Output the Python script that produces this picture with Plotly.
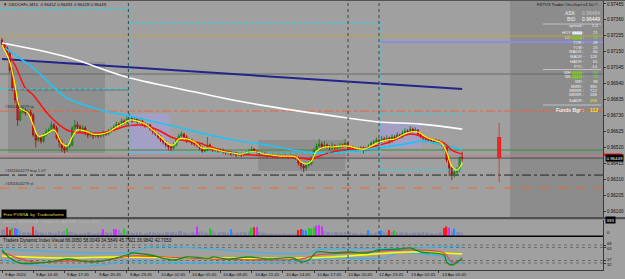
import plotly.graph_objects as go

# ---------------- data (USDCHFc, M15) ----------------
# bar number 0 = 9 Apr 2020 11:45 ; bar 133 = 12 Apr 21:00 ; bar 177 = 13 Apr 08:00
bars = list(range(178))

opens = [
    0.97227, 0.97201, 0.97175, 0.97148, 0.97029, 0.96911, 0.96832, 0.96700, 0.96753, 0.96766,
    0.96746, 0.96753, 0.96733, 0.96601, 0.96568, 0.96581, 0.96561, 0.96601, 0.96621, 0.96634,
    0.96667, 0.96647, 0.96581, 0.96555, 0.96515, 0.96502, 0.96528, 0.96535, 0.96647, 0.96667,
    0.96654, 0.96634, 0.96647, 0.96614, 0.96601, 0.96607, 0.96594, 0.96607, 0.96594, 0.96601,
    0.96614, 0.96607, 0.96627, 0.96634, 0.96654, 0.96673, 0.96667, 0.96693, 0.96680, 0.96706,
    0.96713, 0.96693, 0.96706, 0.96687, 0.96693, 0.96673, 0.96660, 0.96667, 0.96640, 0.96621,
    0.96607, 0.96588, 0.96568, 0.96555, 0.96535, 0.96522, 0.96515, 0.96535, 0.96568, 0.96594,
    0.96607, 0.96588, 0.96561, 0.96568, 0.96548, 0.96541, 0.96535, 0.96515, 0.96495, 0.96502,
    0.96535, 0.96515, 0.96502, 0.96508, 0.96495, 0.96502, 0.96489, 0.96482, 0.96489, 0.96475,
    0.96482, 0.96469, 0.96475, 0.96469, 0.96475, 0.96482, 0.96495, 0.96508, 0.96495, 0.96482,
    0.96475, 0.96482, 0.96469, 0.96462, 0.96469, 0.96462, 0.96462, 0.96456, 0.96462, 0.96456,
    0.96462, 0.96456, 0.96462, 0.96456, 0.96449, 0.96416, 0.96396, 0.96383, 0.96403, 0.96410,
    0.96449, 0.96502, 0.96528, 0.96541, 0.96522, 0.96535, 0.96522, 0.96515, 0.96528, 0.96515,
    0.96522, 0.96535, 0.96528, 0.96548, 0.96522, 0.96515, 0.96515, 0.96502, 0.96508, 0.96515,
    0.96502, 0.96508, 0.96528, 0.96548, 0.96555, 0.96568, 0.96561, 0.96575, 0.96568, 0.96581,
    0.96561, 0.96588, 0.96581, 0.96601, 0.96588, 0.96614, 0.96627, 0.96621, 0.96640, 0.96627,
    0.96634, 0.96607, 0.96594, 0.96581, 0.96575, 0.96568, 0.96561, 0.96555, 0.96561, 0.96548,
    0.96541, 0.96522, 0.96436, 0.96383, 0.96344, 0.96357, 0.96370, 0.96452]

highs = [
    0.97240, 0.97212, 0.97185, 0.97160, 0.97045, 0.96925, 0.96845, 0.96770, 0.96790, 0.96780,
    0.96775, 0.96770, 0.96745, 0.96615, 0.96600, 0.96595, 0.96615, 0.96640, 0.96650, 0.96690,
    0.96680, 0.96660, 0.96595, 0.96570, 0.96530, 0.96545, 0.96560, 0.96660, 0.96700, 0.96690,
    0.96670, 0.96665, 0.96660, 0.96630, 0.96625, 0.96620, 0.96620, 0.96615, 0.96615, 0.96630,
    0.96625, 0.96640, 0.96650, 0.96670, 0.96690, 0.96685, 0.96710, 0.96705, 0.96725, 0.96746,
    0.96725, 0.96720, 0.96715, 0.96705, 0.96700, 0.96685, 0.96680, 0.96675, 0.96650, 0.96630,
    0.96615, 0.96600, 0.96575, 0.96565, 0.96545, 0.96535, 0.96550, 0.96580, 0.96610, 0.96625,
    0.96615, 0.96600, 0.96580, 0.96575, 0.96560, 0.96555, 0.96545, 0.96525, 0.96515, 0.96588,
    0.96545, 0.96525, 0.96520, 0.96515, 0.96515, 0.96510, 0.96500, 0.96500, 0.96495, 0.96495,
    0.96490, 0.96488, 0.96485, 0.96485, 0.96495, 0.96510, 0.96525, 0.96515, 0.96500, 0.96490,
    0.96495, 0.96490, 0.96478, 0.96480, 0.96475, 0.96472, 0.96470, 0.96472, 0.96470, 0.96475,
    0.96470, 0.96472, 0.96470, 0.96465, 0.96458, 0.96425, 0.96410, 0.96415, 0.96425, 0.96460,
    0.96515, 0.96545, 0.96575, 0.96555, 0.96560, 0.96545, 0.96535, 0.96550, 0.96540, 0.96535,
    0.96550, 0.96545, 0.96575, 0.96555, 0.96530, 0.96530, 0.96520, 0.96520, 0.96530, 0.96525,
    0.96520, 0.96540, 0.96560, 0.96570, 0.96585, 0.96580, 0.96595, 0.96590, 0.96600, 0.96590,
    0.96605, 0.96600, 0.96620, 0.96610, 0.96630, 0.96645, 0.96640, 0.96660, 0.96650, 0.96650,
    0.96640, 0.96615, 0.96600, 0.96590, 0.96585, 0.96580, 0.96570, 0.96575, 0.96570, 0.96560,
    0.96550, 0.96530, 0.96445, 0.96395, 0.96375, 0.96390, 0.96460, 0.96491]

lows = [
    0.97190, 0.97160, 0.97130, 0.97010, 0.96890, 0.96810, 0.96660, 0.96690, 0.96740, 0.96730,
    0.96735, 0.96720, 0.96590, 0.96520, 0.96555, 0.96545, 0.96550, 0.96590, 0.96610, 0.96625,
    0.96635, 0.96570, 0.96520, 0.96490, 0.96480, 0.96490, 0.96515, 0.96525, 0.96635, 0.96640,
    0.96620, 0.96620, 0.96600, 0.96580, 0.96590, 0.96575, 0.96585, 0.96580, 0.96585, 0.96590,
    0.96595, 0.96600, 0.96615, 0.96625, 0.96645, 0.96655, 0.96660, 0.96670, 0.96670, 0.96695,
    0.96680, 0.96685, 0.96675, 0.96675, 0.96660, 0.96650, 0.96650, 0.96630, 0.96605, 0.96595,
    0.96575, 0.96555, 0.96540, 0.96520, 0.96500, 0.96495, 0.96505, 0.96525, 0.96560, 0.96585,
    0.96575, 0.96550, 0.96550, 0.96535, 0.96530, 0.96520, 0.96500, 0.96480, 0.96485, 0.96495,
    0.96500, 0.96490, 0.96490, 0.96485, 0.96485, 0.96475, 0.96470, 0.96470, 0.96462, 0.96465,
    0.96455, 0.96460, 0.96455, 0.96460, 0.96465, 0.96475, 0.96488, 0.96485, 0.96470, 0.96465,
    0.96468, 0.96460, 0.96452, 0.96455, 0.96452, 0.96450, 0.96445, 0.96448, 0.96445, 0.96448,
    0.96445, 0.96448, 0.96442, 0.96435, 0.96400, 0.96375, 0.96357, 0.96365, 0.96390, 0.96400,
    0.96440, 0.96495, 0.96520, 0.96510, 0.96515, 0.96510, 0.96500, 0.96505, 0.96505, 0.96505,
    0.96510, 0.96515, 0.96520, 0.96510, 0.96500, 0.96500, 0.96490, 0.96492, 0.96498, 0.96480,
    0.96495, 0.96500, 0.96520, 0.96540, 0.96545, 0.96550, 0.96550, 0.96555, 0.96560, 0.96545,
    0.96550, 0.96565, 0.96570, 0.96575, 0.96580, 0.96605, 0.96610, 0.96610, 0.96615, 0.96620,
    0.96595, 0.96580, 0.96570, 0.96562, 0.96555, 0.96550, 0.96545, 0.96545, 0.96535, 0.96530,
    0.96505, 0.96420, 0.96330, 0.96304, 0.96320, 0.96330, 0.96355, 0.96428]

closes = [
    0.97201, 0.97175, 0.97148, 0.97029, 0.96911, 0.96832, 0.96700, 0.96753, 0.96766, 0.96746,
    0.96753, 0.96733, 0.96601, 0.96568, 0.96581, 0.96561, 0.96601, 0.96621, 0.96634, 0.96667,
    0.96647, 0.96581, 0.96555, 0.96515, 0.96502, 0.96528, 0.96535, 0.96647, 0.96667, 0.96654,
    0.96634, 0.96647, 0.96614, 0.96601, 0.96607, 0.96594, 0.96607, 0.96594, 0.96601, 0.96614,
    0.96607, 0.96627, 0.96634, 0.96654, 0.96673, 0.96667, 0.96693, 0.96680, 0.96706, 0.96713,
    0.96693, 0.96706, 0.96687, 0.96693, 0.96673, 0.96660, 0.96667, 0.96640, 0.96621, 0.96607,
    0.96588, 0.96568, 0.96555, 0.96535, 0.96522, 0.96515, 0.96535, 0.96568, 0.96594, 0.96607,
    0.96588, 0.96561, 0.96568, 0.96548, 0.96541, 0.96535, 0.96515, 0.96495, 0.96502, 0.96535,
    0.96515, 0.96502, 0.96508, 0.96495, 0.96502, 0.96489, 0.96482, 0.96489, 0.96475, 0.96482,
    0.96469, 0.96475, 0.96469, 0.96475, 0.96482, 0.96495, 0.96508, 0.96495, 0.96482, 0.96475,
    0.96482, 0.96469, 0.96462, 0.96469, 0.96462, 0.96462, 0.96456, 0.96462, 0.96456, 0.96462,
    0.96456, 0.96462, 0.96456, 0.96449, 0.96416, 0.96396, 0.96383, 0.96403, 0.96410, 0.96449,
    0.96502, 0.96528, 0.96541, 0.96522, 0.96535, 0.96522, 0.96515, 0.96528, 0.96515, 0.96522,
    0.96535, 0.96528, 0.96548, 0.96522, 0.96515, 0.96515, 0.96502, 0.96508, 0.96515, 0.96502,
    0.96508, 0.96528, 0.96548, 0.96555, 0.96568, 0.96561, 0.96575, 0.96568, 0.96581, 0.96561,
    0.96588, 0.96581, 0.96601, 0.96588, 0.96614, 0.96627, 0.96621, 0.96640, 0.96627, 0.96634,
    0.96607, 0.96594, 0.96581, 0.96575, 0.96568, 0.96561, 0.96555, 0.96561, 0.96548, 0.96541,
    0.96522, 0.96436, 0.96383, 0.96344, 0.96357, 0.96370, 0.96452, 0.96449]

time_tick_bars = [0, 12, 24, 36, 48, 60, 72, 84, 96, 108, 120, 132, 144, 156, 168]
time_tick_labels = ["9 Apr 2020", "9 Apr 14:45", "9 Apr 17:45", "9 Apr 20:45", "9 Apr 23:45",
                    "10 Apr 02:45", "10 Apr 05:45", "10 Apr 08:45", "10 Apr 11:45", "10 Apr 14:45",
                    "10 Apr 17:45", "10 Apr 20:45", "12 Apr 23:45", "13 Apr 02:45", "13 Apr 05:45"]

price_ticks = [0.97465, 0.97360, 0.97255, 0.97150, 0.97045, 0.96940, 0.96835,
               0.96730, 0.96625, 0.96520, 0.96415, 0.96310, 0.96205, 0.96100]

fast_ma_bars = [0, 3, 5, 7, 10, 12, 14, 17, 20, 23, 25, 27, 29, 32, 35, 38, 41, 44, 47, 49, 52, 55, 58,
                61, 64, 66, 68, 71, 74, 77, 80, 83, 86, 89, 92, 95, 98, 101, 104, 107, 110, 113, 115,
                117, 119, 121, 124, 127, 130, 133, 136, 139, 142, 145, 148, 151, 154, 157, 160, 163,
                166, 169, 171, 173, 175, 177]
fast_ma = [0.97194, 0.97082, 0.96930, 0.96779, 0.96746, 0.96667, 0.96594, 0.96607, 0.96634, 0.96548,
           0.96528, 0.96588, 0.96634, 0.96627, 0.96607, 0.96607, 0.96621, 0.96654, 0.96680, 0.96700,
           0.96693, 0.96673, 0.96634, 0.96588, 0.96541, 0.96535, 0.96575, 0.96575, 0.96555, 0.96515,
           0.96515, 0.96502, 0.96489, 0.96482, 0.96475, 0.96489, 0.96489, 0.96475, 0.96469, 0.96462,
           0.96462, 0.96456, 0.96423, 0.96410, 0.96429, 0.96495, 0.96522, 0.96522, 0.96528, 0.96528,
           0.96515, 0.96508, 0.96528, 0.96555, 0.96568, 0.96575, 0.96601, 0.96621, 0.96621, 0.96588,
           0.96568, 0.96548, 0.96489, 0.96396, 0.96370, 0.96416]

slow_ma_bars = [0, 5, 9, 12, 18, 25, 31, 38, 43, 48, 53, 60, 65, 69, 76, 80, 89, 102, 115, 119, 124,
                131, 140, 148, 157, 163, 170, 173, 177]
slow_ma = [0.97194, 0.97062, 0.96911, 0.96865, 0.96733, 0.96634, 0.96614, 0.96614, 0.96634, 0.96660,
           0.96667, 0.96634, 0.96588, 0.96568, 0.96548, 0.96522, 0.96482, 0.96462, 0.96449, 0.96442,
           0.96475, 0.96502, 0.96515, 0.96548, 0.96607, 0.96581, 0.96548, 0.96502, 0.96475]

mid_ma_bars = [1, 12, 22, 25, 38, 49, 64, 80, 89, 102, 120, 131, 144, 157, 161, 170, 177]
mid_ma = [0.97175, 0.97043, 0.96884, 0.96845, 0.96766, 0.96726, 0.96667, 0.96601, 0.96568, 0.96535,
          0.96482, 0.96489, 0.96515, 0.96548, 0.96561, 0.96535, 0.96502]

long_ma_bars = [0, 25, 48, 76, 95, 133, 145, 161, 177]
long_ma = [0.97207, 0.97115, 0.96983, 0.96878, 0.96812, 0.96713, 0.96687, 0.96673, 0.96640]

trend_bars = [0, 177]
trend = [0.97102, 0.96904]

# previous-day high / low per trading day
day_start_bars = [-0.77, 49.2, 145.4]
day_end_bars = [49.2, 145.4, 177]
prev_day_high = [0.97432, 0.97339, 0.96739]
prev_day_low = [0.96904, 0.96482, 0.96370]

# horizontal levels: price, first bar, last bar
level_prices = [0.97254, 0.97214, 0.97003, 0.96898, 0.96759, 0.96502, 0.96464, 0.96449, 0.96337, 0.96251]
level_from = [-0.77, 145.4, -0.77, 2.3, -0.77, -0.77, -0.77, -0.77, -0.77, -0.77]
level_to = [231.2, 231.2, 231.2, 48.5, 231.2, 231.2, 231.2, 231.2, 231.2, 231.2]
order_labels = ["#1811604279 tp", "#1811604279 buy 1.07", "#1811604279 sl"]
order_prices = [0.96759, 0.96337, 0.96251]

# zones: first bar, last bar, top, bottom
session_zones = [(2.3, 39.6, 0.97082, 0.96482), (98.5, 132.0, 0.96568, 0.96363)]
lavender_zones = [(49.2, 64.6, 0.96739, 0.96482), (145.4, 161.2, 0.96687, 0.96515)]
separator_bars = [48.6, 133.1, 145.0]

# higher-timeframe candle projection
htf_bar = [191.2]
htf_open, htf_high, htf_low, htf_close = [0.96588], [0.96680], [0.96291], [0.96449]

# PVSRA volume
volume = [
    150, 170, 230, 160, 210, 200, 180, 120, 100, 90,
    110, 80, 240, 150, 100, 90, 80, 70, 110, 90,
    70, 80, 120, 100, 130, 190, 110, 100, 80, 60,
    70, 60, 80, 100, 90, 60, 70, 80, 90, 170,
    100, 80, 90, 180, 170, 160, 90, 190, 120, 110,
    80, 70, 90, 100, 60, 70, 80, 110, 90, 80,
    90, 70, 80, 100, 110, 90, 100, 80, 120, 130,
    90, 80, 70, 100, 90, 240, 100, 120, 90, 80,
    190, 150, 90, 80, 100, 110, 90, 80, 170, 90,
    70, 90, 100, 110, 80, 120, 210, 220, 230, 110,
    90, 80, 70, 60, 70, 60, 50, 60, 70, 60,
    50, 60, 70, 60, 150, 180, 160, 140, 200, 190,
    220, 260, 280, 250, 120, 110, 100, 90, 110, 100,
    90, 80, 100, 110, 90, 70, 80, 60, 70, 60,
    70, 150, 80, 70, 90, 100, 140, 110, 90, 150,
    100, 130, 90, 80, 100, 90, 80, 70, 90, 80,
    90, 80, 100, 90, 80, 70, 60, 70, 80, 90,
    200, 240, 210, 120, 190, 100, 110, 90]
volume_class = ("nnrrgmbnnn" "nnrnnnnnnn" "nnnnngnnnn" "nnnnnnnnnm" "nnnmmnngnn"
                "nnnnnnnnnn" "nnnnnnnnnn" "nnnnnmnnnn" "gnnnnnnnbn" "nnnnnngrmn"
                "nnnnnnnnnn" "nnnnrrbbgg" "gmmmnnnnnn" "nnnnnnnnnn" "nbnnnnbnnr"
                "ngnnnnnnnn" "nnnnnnnnnn" "rrmnbnnn")

# Traders Dynamic Index
tdi_up_bars = [0, 50, 57, 80, 102, 118, 121, 127, 157, 177]
tdi_up = [60, 54, 64, 60, 52, 52, 58, 60, 62, 66]
tdi_lo_bars = [0, 12, 25, 38, 47, 57, 80, 115, 127, 147, 153, 157, 170, 173, 177]
tdi_lo = [38, 28, 24, 28, 34, 34, 32, 36, 42, 42, 54, 52, 44, 32, 34]
tdi_mid_bars = [0, 25, 42, 80, 115, 127, 157, 170, 177]
tdi_mid = [46, 42, 44, 42, 42, 44, 54, 52, 50]
tdi_rsi_bars = [0, 3, 7, 18, 25, 35, 48, 50, 57, 66, 71, 80, 81, 87, 95, 102, 112, 115, 118, 121,
                127, 134, 140, 145, 153, 157, 161, 170, 171, 173, 177]
tdi_rsi = [58, 42, 32, 34, 40, 34, 48, 52, 48, 38, 44, 42, 44, 40, 44, 40, 42, 34, 38, 54,
           52, 54, 52, 58, 60, 62, 54, 48, 34, 28, 42]
tdi_sig_bars = [0, 12, 25, 38, 50, 63, 80, 115, 121, 134, 157, 170, 173, 177]
tdi_sig = [54, 34, 36, 36, 46, 44, 40, 40, 48, 52, 58, 52, 34, 38]
tdi_levels = [68, 63, 37, 32]

# on-chart info panel
info_labels = ["ASK", "BID", "spread :", "HOY", "LO", "TOR :", "YOB :", "WADR :", "MADR :", "HADR :",
               "PTC :", "WH", "WL", "WR :", "MWR :", "3MWR :", "6MWR :", "3xADR :", "Funds Bgr :"]
info_values = ["0.96484", "0.96449", "1.5", "21", "18", "28", "23", "60", "128", "61",
               "-14", "29", "18", "38", "390", "712", "168", "208", "112"]
info_kind = ["ask", "bid", "n", "bar", "gbar", "n", "n", "n", "n", "n",
             "n", "gbar", "gbar", "n", "n", "n", "n", "y", "y"]

# ---------------- layout helpers ----------------
W, H = 625, 279
FONT = "Liberation Sans"
BG = "#a0a0a0"
X_RANGE = [-0.77, 231.15]


def py(p):
    return 1 - p / H


def pxp(p):
    return p / W


fig = go.Figure()

# candles
fig.add_trace(go.Candlestick(
    x=bars, open=opens, high=highs, low=lows, close=closes,
    increasing=dict(line=dict(color="#137a13", width=0.8), fillcolor="#1fae1f"),
    decreasing=dict(line=dict(color="#b00000", width=0.8), fillcolor="#ff1a1a"),
    whiskerwidth=0, showlegend=False, xaxis="x", yaxis="y"))

# moving averages & trend
fig.add_trace(go.Scatter(x=trend_bars, y=trend, mode="lines",
                         line=dict(color="#24248c", width=2), xaxis="x", yaxis="y"))
fig.add_trace(go.Scatter(x=long_ma_bars, y=long_ma, mode="lines", line_shape="spline",
                         line=dict(color="#ffffff", width=1.6), xaxis="x", yaxis="y"))
fig.add_trace(go.Scatter(x=mid_ma_bars, y=mid_ma, mode="lines", line_shape="spline",
                         line=dict(color="#22c3f2", width=1.7), xaxis="x", yaxis="y"))
fig.add_trace(go.Scatter(x=slow_ma_bars, y=slow_ma, mode="lines", line_shape="spline",
                         line=dict(color="#ff1010", width=1.5), xaxis="x", yaxis="y"))
fig.add_trace(go.Scatter(x=fast_ma_bars, y=fast_ma, mode="lines", line_shape="spline",
                         line=dict(color="#ffff00", width=1.2), xaxis="x", yaxis="y"))

# previous day high/low (cyan dotted steps)
for hi_lo in (prev_day_high, prev_day_low):
    xs, ys = [], []
    for a, b, v in zip(day_start_bars, day_end_bars, hi_lo):
        xs += [a, b, None]
        ys += [v, v, None]
    fig.add_trace(go.Scatter(x=xs, y=ys, mode="lines", line=dict(color="#27d3e6", width=1, dash="dot"),
                             xaxis="x", yaxis="y"))
vx, vy = [], []
for k in range(1, len(day_start_bars)):
    vx += [day_start_bars[k], day_start_bars[k], None]
    vy += [max(prev_day_high[k - 1], prev_day_high[k]), min(prev_day_low[k - 1], prev_day_low[k]), None]
fig.add_trace(go.Scatter(x=vx, y=vy, mode="lines", line=dict(color="#27d3e6", width=1, dash="dot"),
                         xaxis="x", yaxis="y"))

# higher timeframe candle
fig.add_trace(go.Scatter(x=htf_bar * 2, y=[htf_low[0], htf_high[0]], mode="lines",
                         line=dict(color="#b84848", width=1), xaxis="x", yaxis="y"))
fig.add_trace(go.Bar(x=htf_bar, y=[htf_open[0] - htf_close[0]], base=htf_close, width=1.5,
                     marker=dict(color="#f01818", line=dict(width=0)), xaxis="x", yaxis="y"))

# volume
vol_colors = {"n": "#8888ac", "r": "#ff1a1a", "g": "#20cc20", "b": "#2090ff", "m": "#cc33ff"}
fig.add_trace(go.Bar(x=bars, y=volume, width=0.55,
                     marker=dict(color=[vol_colors[c] for c in volume_class], line=dict(width=0)),
                     xaxis="x", yaxis="y2"))

# TDI
for xs, ys, col, wd in [(tdi_up_bars, tdi_up, "#2fb6ee", 1.1), (tdi_lo_bars, tdi_lo, "#2fb6ee", 1.1),
                        (tdi_mid_bars, tdi_mid, "#ffff00", 1.6), (tdi_sig_bars, tdi_sig, "#e84040", 1.1),
                        (tdi_rsi_bars, tdi_rsi, "#188c18", 1.3)]:
    fig.add_trace(go.Scatter(x=xs, y=ys, mode="lines", line_shape="spline", line=dict(color=col, width=wd),
                             xaxis="x", yaxis="y3"))

shapes = []
# info panel background
shapes.append(dict(type="rect", xref="x", yref="y domain", x0=195.4, x1=X_RANGE[1], y0=0, y1=1,
                   fillcolor="#8c8c8c", line=dict(width=0), layer="below"))
for a, b, top, bot in session_zones:
    shapes.append(dict(type="rect", xref="x", yref="y", x0=a, x1=b, y0=bot, y1=top,
                       fillcolor="#8f8f8f", line=dict(width=0), layer="below"))
for a, b, top, bot in lavender_zones:
    shapes.append(dict(type="rect", xref="x", yref="y", x0=a, x1=b, y0=bot, y1=top,
                       fillcolor="#a49fc4", line=dict(width=0), layer="below"))

level_styles = [("#b9a64a", 1, "solid"), ("#8a8ae6", 2, "solid"), ("#6a6a6a", 1, "solid"),
                ("#6a6a6a", 1, "solid"), ("#e8643c", 1, "dashdot"), ("#3c8c3c", 1, "solid"),
                ("#c87a84", 1, "solid"), ("#4a4a4a", 1, "solid"), ("#222222", 1, "dashdot"),
                ("#ee6a2a", 1, "dash")]
for p, a, b, (col, wd, dash) in zip(level_prices, level_from, level_to, level_styles):
    shapes.append(dict(type="line", xref="x", yref="y", x0=a, x1=b, y0=p, y1=p,
                       line=dict(color=col, width=wd, dash=dash), layer="below"))

# period separators
for s in separator_bars:
    shapes.append(dict(type="line", xref="x", yref="paper", x0=s, x1=s, y0=py(270), y1=1,
                       line=dict(color="#444444", width=1, dash="dot")))
# TDI levels
for lv in tdi_levels:
    shapes.append(dict(type="line", xref="x domain", yref="y3", x0=0, x1=1, y0=lv, y1=lv,
                       line=dict(color="#6c6c6c", width=1, dash="dot"), layer="below"))
# panel borders
shapes.append(dict(type="rect", xref="paper", yref="paper", x0=0, x1=1, y0=py(219.2), y1=py(217),
                   fillcolor="#505050", line=dict(width=0)))
shapes.append(dict(type="line", xref="paper", yref="paper", x0=0, x1=pxp(603.5), y0=py(236.3), y1=py(236.3),
                   line=dict(color="#000000", width=1.6)))
shapes.append(dict(type="line", xref="paper", yref="paper", x0=0, x1=1, y0=py(0.5), y1=py(0.5),
                   line=dict(color="#555555", width=1)))
# info panel separators
for yy in [24, 69.5, 105]:
    shapes.append(dict(type="line", xref="paper", yref="paper", x0=pxp(543), x1=pxp(601), y0=py(yy), y1=py(yy),
                       line=dict(color="#cfcfcf", width=0.8)))
# price boxes on axis
shapes.append(dict(type="rect", xref="paper", yref="paper", x0=pxp(604), x1=pxp(622), y0=py(156), y1=py(153.5),
                   fillcolor="#ff1010", line=dict(width=0)))

ann = []


def text(x, y, s, size=4.6, color="#111111", xanchor="left", bg=None, pad=0):
    d = dict(x=pxp(x), y=py(y), xref="paper", yref="paper", text=s, showarrow=False,
             xanchor=xanchor, yanchor="middle", font=dict(family=FONT, size=size, color=color), borderpad=pad)
    if bg:
        d["bgcolor"] = bg
    ann.append(d)


text(2, 5, "▼ USDCHFc,M15  0.96452 0.96491 0.96428 0.96449", size=4.3)
for b, lab in zip(time_tick_bars, time_tick_labels):
    ann.append(dict(x=b, y=py(274.5), xref="x", yref="paper", text=lab, showarrow=False, xanchor="left",
                    xshift=1, yanchor="middle", font=dict(family=FONT, size=4.3, color="#111111")))
for lab, p in zip(order_labels, order_prices):
    ann.append(dict(x=pxp(3), y=p, xref="paper", yref="y", text=lab, showarrow=False, xanchor="left",
                    yanchor="bottom", yshift=0, font=dict(family=FONT, size=4.0, color="#2a2a2a")))
text(0.5, 213.5, "Free PVSRA  by  Traderathome", size=4.3, color="#e6d65a", bg="#000000", pad=1.5)
text(2, 221.5, "Volume TM PVSRA    Climax: 1   ABOVE   Count: 397", size=4.0, color="#b8b8b8")
text(2, 240.5, "Traders Dynamic Index Visual 66.0050 58.0049 34.5849 45.7921 36.9842 42.7053", size=4.6)
text(605, 158, "0.96449", size=4.4, color="#ffffff", bg="#000000", pad=0.5)
text(605, 220, "393", size=4.4, color="#ffffff", bg="#000000", pad=0.5)
text(606, 232.5, "0", size=4.4)
# TDI level labels on the right axis
for lv, yy in zip(tdi_levels, [243.3, 248.6, 259.6, 264.9]):
    text(606, yy, str(lv), size=4.0)

# info panel
text(600, 5, "FXTV3 Trader On-chart v1.50 ©", size=4.3, xanchor="right")
info_y = [13.5, 19, 26, 32.5, 37.5, 42.5, 47.5, 52, 56.8, 61.2, 67, 72, 76.5, 81.5, 86, 90.5, 94.8, 100.5, 110]
for yy, lab, val, kind in zip(info_y, info_labels, info_values, info_kind):
    lab_txt = lab
    vcol = "#f2f2f2"
    size = 4.1
    if kind == "bar":
        lab_txt = lab + ' <span style="color:#ffffff">▮▮▮▮▮</span> :'
    elif kind == "gbar":
        lab_txt = lab + ' <span style="color:#6fd21c">▮▮▮▮▮</span> :'
        vcol = "#74e01e"
    elif kind == "y":
        vcol = "#f5ea00"
    if kind in ("ask", "bid"):
        size = 5.0
        vcol = "#c4c4c4" if kind == "ask" else "#ffffff"
        text(577, yy, lab_txt, size=size, color="#eeeeee", xanchor="right")
        text(581, yy, val, size=size, color=vcol)
    else:
        if lab.startswith("Funds"):
            lab_txt = "<b>" + lab_txt + "</b>"
            val = "<b>" + val + "</b>"
            size = 5.0
        text(585, yy, lab_txt, size=size, color="#eeeeee", xanchor="right")
        text(599, yy, val, size=size, color=vcol, xanchor="right")

axis_common = dict(showgrid=False, zeroline=False, side="right", anchor="x", showline=True,
                   linecolor="#3a3a3a", linewidth=1, ticks="outside", ticklen=2, tickcolor="#3a3a3a",
                   tickfont=dict(family=FONT, size=4.6, color="#111111"), fixedrange=True)

fig.update_layout(
    width=W, height=H, autosize=False,
    margin=dict(l=0, r=0, t=0, b=0, pad=0),
    paper_bgcolor=BG, plot_bgcolor=BG,
    showlegend=False, barmode="overlay",
    font=dict(family=FONT, size=5, color="#111111"),
    xaxis=dict(domain=[0, 603 / W], range=X_RANGE, anchor="y3", showgrid=False, zeroline=False,
               showline=True, linecolor="#3a3a3a", ticks="outside", ticklen=2, tickcolor="#3a3a3a",
               tickvals=time_tick_bars, showticklabels=False, rangeslider=dict(visible=False),
               fixedrange=True),
    yaxis=dict(domain=[py(218), 1], range=[0.96054, 0.97491], tickvals=price_ticks,
               ticktext=[f"{v:.5f}" for v in price_ticks], **axis_common),
    yaxis2=dict(domain=[py(236), py(219.5)], range=[0, 418], showticklabels=False,
                **{k: v for k, v in axis_common.items() if k != "ticks"}, ticks=""),
    yaxis3=dict(domain=[py(270), py(237)], range=[18, 84], tickvals=tdi_levels,
                showticklabels=False, **axis_common),
    shapes=shapes, annotations=ann,
)

fig.write_html("out.html")
